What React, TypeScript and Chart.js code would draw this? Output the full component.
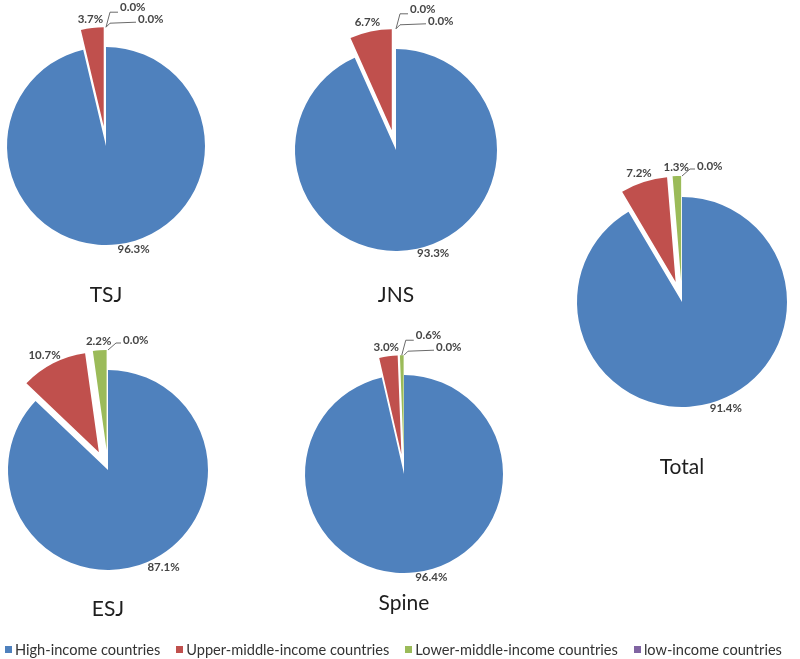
import React, { useEffect, useRef } from 'react';
import { Chart, registerables } from 'chart.js';

Chart.register(...registerables);

// ---- data ----
const categories = [
  'High-income countries',
  'Upper-middle-income countries',
  'Lower-middle-income countries',
  'low-income countries',
];
const chartNames = ['TSJ', 'JNS', 'Total', 'ESJ', 'Spine'];
const tsjValues = [96.3, 3.7, 0.0, 0.0];
const jnsValues = [93.3, 6.7, 0.0, 0.0];
const totalValues = [91.4, 7.2, 1.3, 0.0];
const esjValues = [87.1, 10.7, 2.2, 0.0];
const spineValues = [96.4, 3.0, 0.6, 0.0];

// ---- styles ----
const colors = ['#4F81BD', '#C0504D', '#9BBB59', '#8064A2'];
const explodeFraction = [0, 0.2, 0.2, 0.2];
const LABEL_FONT = 'bold 11.5px Lato';
const LABEL_COLOR = '#454545';
const LEADER_COLOR = '#6a6a6a';
const CANVAS = 360;

// ---- layout ----
const pieLayout = [
  { cx: 106, cy: 146, r: 99, titleY: 294 },
  { cx: 396, cy: 150, r: 101, titleY: 294 },
  { cx: 682, cy: 302, r: 105, titleY: 466 },
  { cx: 108, cy: 470, r: 100, titleY: 608 },
  { cx: 404, cy: 474, r: 99, titleY: 602 },
];
const seriesByChart = [tsjValues, jnsValues, totalValues, esjValues, spineValues];

const explodePlugin = {
  id: 'explodeSlices',
  beforeDatasetDraw(chart: any, args: any) {
    const ctx = chart.ctx;
    args.meta.data.forEach((arc: any, i: number) => {
      const p = arc.getProps(['startAngle', 'endAngle', 'outerRadius'], true);
      const mid = (p.startAngle + p.endAngle) / 2;
      const d = explodeFraction[i] * p.outerRadius;
      ctx.save();
      ctx.translate(Math.cos(mid) * d, Math.sin(mid) * d);
      arc.draw(ctx);
      ctx.restore();
    });
    return false;
  },
};

const labelPlugin = {
  id: 'sliceLabels',
  afterDraw(chart: any) {
    const ctx = chart.ctx;
    const meta = chart.getDatasetMeta(0);
    const data = chart.data.datasets[0].data as number[];
    const tiny = data.map((_, i) => i).filter((i) => data[i] < 1);
    ctx.save();
    ctx.font = LABEL_FONT;
    ctx.fillStyle = LABEL_COLOR;
    ctx.strokeStyle = LEADER_COLOR;
    ctx.lineWidth = 1;
    ctx.textBaseline = 'middle';
    meta.data.forEach((arc: any, i: number) => {
      const v = data[i];
      const p = arc.getProps(['x', 'y', 'startAngle', 'endAngle', 'outerRadius'], true);
      const mid = (p.startAngle + p.endAngle) / 2;
      const R = p.outerRadius;
      const d = explodeFraction[i] * R;
      const text = v.toFixed(1) + '%';
      const w = ctx.measureText(text).width;
      const c = Math.cos(mid);
      const s = Math.sin(mid);
      if (v >= 50) {
        const px = p.x + c * R;
        const py = p.y + s * R;
        const left = c >= 0 ? px : px - w;
        const ty = s >= 0 ? py + 5 : py - 5;
        ctx.textAlign = 'left';
        ctx.fillText(text, left, ty);
      } else if (v >= 1) {
        const rr = R + d + 3;
        const tx = p.x + c * rr + (c * w) / 2;
        const ty = p.y + s * rr + s * 6;
        ctx.textAlign = 'center';
        ctx.fillText(text, tx, ty);
      } else {
        const k = tiny.indexOf(i);
        const ax = p.x + c * (R + d);
        const ay = p.y + s * (R + d);
        ctx.textAlign = 'left';
        ctx.beginPath();
        if (tiny.length >= 2 && k === 0) {
          ctx.moveTo(ax, ay);
          ctx.lineTo(ax + 4, ay - 15);
          ctx.lineTo(ax + 12, ay - 15);
          ctx.stroke();
          ctx.fillText(text, ax + 14, ay - 20);
        } else if (tiny.length >= 2) {
          ctx.moveTo(ax, ay);
          ctx.lineTo(ax + 4, ay - 4);
          ctx.lineTo(ax + 30, ay - 5);
          ctx.stroke();
          ctx.fillText(text, ax + 32, ay - 8);
        } else {
          ctx.moveTo(ax, ay);
          ctx.lineTo(ax + 8, ay - 7);
          ctx.lineTo(ax + 13, ay - 7);
          ctx.stroke();
          ctx.fillText(text, ax + 15, ay - 10);
        }
      }
    });
    ctx.restore();
  },
};

function PieChart({ values, cx, cy, r }: { values: number[]; cx: number; cy: number; r: number }) {
  const ref = useRef<HTMLCanvasElement>(null);
  useEffect(() => {
    const chart = new Chart(ref.current as HTMLCanvasElement, {
      type: 'pie',
      data: {
        labels: categories,
        datasets: [{ data: values, backgroundColor: colors, borderWidth: 0 }],
      },
      options: {
        animation: false,
        responsive: false,
        events: [],
        radius: r,
        layout: { padding: 0 },
        plugins: { legend: { display: false }, tooltip: { enabled: false } },
      } as any,
      plugins: [explodePlugin as any, labelPlugin as any],
    });
    return () => chart.destroy();
  }, [values, r]);
  return (
    <canvas
      ref={ref}
      width={CANVAS}
      height={CANVAS}
      style={{
        position: 'absolute',
        left: cx - CANVAS / 2,
        top: cy - CANVAS / 2,
        width: CANVAS,
        height: CANVAS,
      }}
    />
  );
}

export default function App() {
  return (
    <div
      style={{
        position: 'absolute',
        left: 0,
        top: 0,
        width: 800,
        height: 659,
        overflow: 'hidden',
        background: '#ffffff',
        fontFamily: 'Lato, "Open Sans", sans-serif',
      }}
    >
      {pieLayout.map((l, i) => (
        <PieChart key={chartNames[i]} values={seriesByChart[i]} cx={l.cx} cy={l.cy} r={l.r} />
      ))}
      {pieLayout.map((l, i) => (
        <div
          key={'t' + chartNames[i]}
          style={{
            position: 'absolute',
            left: l.cx - 60,
            top: l.titleY - 14,
            width: 120,
            height: 28,
            lineHeight: '28px',
            textAlign: 'center',
            fontSize: 21,
            color: '#1e1e1e',
          }}
        >
          {chartNames[i]}
        </div>
      ))}
      <div
        style={{
          position: 'absolute',
          left: 5,
          top: 640,
          height: 18,
          display: 'flex',
          alignItems: 'center',
          whiteSpace: 'nowrap',
          fontSize: 14.6,
          color: '#333333',
        }}
      >
        {categories.map((c, i) => (
          <div key={c} style={{ display: 'flex', alignItems: 'center', marginRight: 16 }}>
            <span
              style={{ display: 'inline-block', width: 7, height: 7, background: colors[i], marginRight: 3 }}
            />
            <span>{c}</span>
          </div>
        ))}
      </div>
    </div>
  );
}
